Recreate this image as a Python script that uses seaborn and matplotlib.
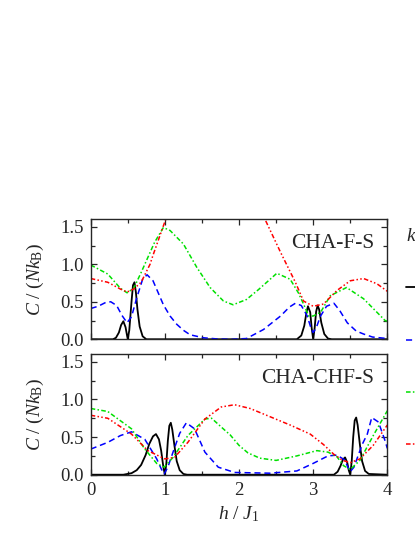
import numpy as np
import matplotlib

matplotlib.use('Agg')
import matplotlib.pyplot as plt
import pandas as pd
import seaborn as sns
from matplotlib.ticker import MultipleLocator

# legend entries (temperatures), colours and line styles
temps = ['0.01', '0.05', '0.1', '0.2']
colors = ['black', '#0000ff', '#00e000', '#ff0000']

# ---- CHA-F-S (upper panel) ----
h_f_0 = [0, 0.30, 0.34, 0.38, 0.41, 0.44, 0.47, 0.49, 0.50, 0.52, 0.55, 0.57, 0.59, 0.61, 0.63, 0.66, 0.70, 0.75,
         2.78, 2.84, 2.88, 2.91, 2.93, 2.96, 2.98, 3.00, 3.02, 3.04, 3.06, 3.08, 3.11, 3.15, 3.20, 3.25, 4.0]
c_f_0 = [0, 0, 0.02, 0.09, 0.19, 0.24, 0.16, 0.05, 0.0, 0.12, 0.50, 0.72, 0.76, 0.62, 0.40, 0.17, 0.04, 0,
         0, 0.05, 0.18, 0.36, 0.44, 0.36, 0.15, 0.0, 0.15, 0.37, 0.45, 0.40, 0.22, 0.07, 0.01, 0, 0]

h_f_1 = [0, 0.1, 0.2, 0.27, 0.35, 0.42, 0.49, 0.55, 0.62, 0.70, 0.76, 0.84, 0.91, 0.98, 1.07, 1.16, 1.25, 1.34,
         1.52, 1.7, 1.9, 2.1, 2.33, 2.56, 2.68, 2.76, 2.84, 2.92, 2.97, 3.00, 3.04, 3.1, 3.18, 3.28, 3.36, 3.46,
         3.58, 3.68, 3.8, 4.0]
c_f_1 = [0.41, 0.44, 0.49, 0.50, 0.45, 0.32, 0.22, 0.30, 0.55, 0.80, 0.86, 0.78, 0.62, 0.46, 0.31, 0.20, 0.12, 0.06,
         0.02, 0.005, 0.0, 0.01, 0.13, 0.31, 0.43, 0.48, 0.45, 0.31, 0.15, 0.09, 0.15, 0.31, 0.44, 0.48, 0.38, 0.22,
         0.11, 0.07, 0.03, 0.01]

h_f_2 = [0, 0.23, 0.40, 0.49, 0.58, 0.68, 0.86, 0.98, 1.07, 1.25, 1.43, 1.61, 1.79, 1.92, 2.1, 2.26, 2.51, 2.69,
         2.80, 2.87, 2.94, 3.0, 3.1, 3.23, 3.45, 3.68, 3.97, 4.0]
c_f_2 = [0.99, 0.87, 0.68, 0.62, 0.68, 0.89, 1.29, 1.49, 1.45, 1.27, 0.96, 0.69, 0.51, 0.46, 0.53, 0.66, 0.88, 0.80,
         0.62, 0.47, 0.31, 0.31, 0.36, 0.58, 0.69, 0.54, 0.25, 0.24]

h_f_3 = [0, 0.23, 0.40, 0.49, 0.58, 0.68, 0.80, 0.84, 0.99, 1.2, 1.5, 1.8, 2.1, 2.35, 2.56, 2.76, 2.87, 3.0, 3.14,
         3.32, 3.50, 3.68, 3.86, 4.0]
c_f_3 = [0.81, 0.76, 0.67, 0.63, 0.67, 0.76, 1.0, 1.12, 1.54, 2.1, 2.5, 2.5, 2.1, 1.6, 1.16, 0.76, 0.51, 0.44, 0.47,
         0.65, 0.78, 0.81, 0.74, 0.64]

# ---- CHA-CHF-S (lower panel) ----
h_c_0 = [0, 0.44, 0.55, 0.62, 0.68, 0.74, 0.79, 0.84, 0.88, 0.92, 0.95, 0.98, 1.00, 1.02, 1.04, 1.06, 1.08, 1.10,
         1.13, 1.16, 1.20, 1.25, 1.30, 3.28, 3.33, 3.37, 3.40, 3.43, 3.46, 3.48, 3.50, 3.52, 3.54, 3.56, 3.58, 3.60,
         3.63, 3.66, 3.70, 3.75, 4.0]
c_c_0 = [0, 0, 0.02, 0.06, 0.13, 0.26, 0.41, 0.51, 0.54, 0.47, 0.32, 0.10, 0.0, 0.15, 0.45, 0.65, 0.69, 0.60,
         0.38, 0.18, 0.06, 0.01, 0, 0, 0.04, 0.12, 0.20, 0.23, 0.16, 0.06, 0.0, 0.18, 0.50, 0.72, 0.76, 0.66,
         0.40, 0.18, 0.05, 0.01, 0]

h_c_1 = [0, 0.23, 0.40, 0.55, 0.73, 0.89, 0.95, 0.99, 1.04, 1.11, 1.20, 1.29, 1.40, 1.54, 1.72, 1.94, 2.42, 2.78,
         3.0, 3.2, 3.32, 3.42, 3.46, 3.50, 3.55, 3.59, 3.66, 3.73, 3.79, 3.88, 3.97, 4.0]
c_c_1 = [0.34, 0.43, 0.52, 0.57, 0.47, 0.21, 0.08, 0.01, 0.10, 0.30, 0.55, 0.69, 0.61, 0.30, 0.10, 0.03, 0.02, 0.05,
         0.15, 0.25, 0.26, 0.20, 0.12, 0.04, 0.10, 0.21, 0.40, 0.54, 0.76, 0.70, 0.45, 0.35]

h_c_2 = [0, 0.23, 0.55, 0.73, 0.89, 0.99, 1.11, 1.31, 1.54, 1.63, 1.81, 1.88, 2.0, 2.12, 2.28, 2.5, 2.78, 3.05,
         3.2, 3.32, 3.41, 3.5, 3.63, 3.81, 4.0]
c_c_2 = [0.88, 0.84, 0.61, 0.34, 0.15, 0.10, 0.23, 0.52, 0.74, 0.75, 0.59, 0.53, 0.39, 0.29, 0.22, 0.19, 0.25, 0.32,
         0.30, 0.24, 0.12, 0.07, 0.19, 0.52, 0.85]

h_c_3 = [0, 0.23, 0.55, 0.77, 1.0, 1.13, 1.31, 1.54, 1.76, 1.94, 2.15, 2.42, 2.69, 2.96, 3.14, 3.28, 3.4, 3.5, 3.63,
         3.81, 4.0]
c_c_3 = [0.79, 0.75, 0.54, 0.32, 0.21, 0.23, 0.43, 0.74, 0.90, 0.93, 0.88, 0.77, 0.66, 0.54, 0.40, 0.27, 0.19,
         0.16, 0.21, 0.39, 0.66]

panel_names = ['CHA-F-S', 'CHA-CHF-S']


def to_frame(hs, cs):
    rows = []
    for t, h, c in zip(temps, hs, cs):
        rows.append(pd.DataFrame({'h': h, 'C': c, 'T': t}))
    return pd.concat(rows, ignore_index=True)


def main():
    sns.set_style('ticks')
    plt.rcParams['font.family'] = ['Liberation Serif', 'DejaVu Serif']
    plt.rcParams['mathtext.fontset'] = 'custom'
    plt.rcParams['mathtext.rm'] = 'Liberation Serif'
    plt.rcParams['mathtext.it'] = 'Liberation Serif:italic'
    plt.rcParams['mathtext.bf'] = 'Liberation Serif:bold'

    palette = dict(zip(temps, colors))
    dashes = dict(zip(temps, ['', (4, 2.5), (3, 1.5, 1, 1.5), (3, 1.5, 1, 1.5, 1, 1.5)]))

    frames = [to_frame([h_f_0, h_f_1, h_f_2, h_f_3], [c_f_0, c_f_1, c_f_2, c_f_3]),
              to_frame([h_c_0, h_c_1, h_c_2, h_c_3], [c_c_0, c_c_1, c_c_2, c_c_3])]

    fig = plt.figure(figsize=(4.15, 5.37), dpi=100)
    ax_top = fig.add_axes([0.2186, 0.3682, 0.7147, 0.2235])
    ax_bot = fig.add_axes([0.2186, 0.1160, 0.7147, 0.2242])

    for ax, df, name in zip([ax_top, ax_bot], frames, panel_names):
        sns.lineplot(data=df, x='h', y='C', hue='T', style='T', palette=palette, dashes=dashes,
                     estimator=None, sort=False, linewidth=1.1, legend=False, ax=ax)
        ax.get_lines()[0].set_linewidth(1.3)
        ax.set_xlim(0, 4)
        ax.set_ylim(0, 1.6)
        ax.xaxis.set_major_locator(MultipleLocator(1))
        ax.xaxis.set_minor_locator(MultipleLocator(0.5))
        ax.yaxis.set_major_locator(MultipleLocator(0.5))
        ax.yaxis.set_minor_locator(MultipleLocator(0.25))
        ax.tick_params(which='both', direction='in', top=True, right=True, width=0.9, labelsize=13.5, pad=5)
        ax.tick_params(which='major', length=4.5)
        ax.tick_params(which='minor', length=3)
        for sp in ax.spines.values():
            sp.set_linewidth(1.0)
            sp.set_visible(True)
        ax.set_ylabel(r'$C\ /\ (Nk_{\mathrm{B}})$', fontsize=14, labelpad=10)
        ax.text(0.955, 0.80, name, transform=ax.transAxes, ha='right', va='center', fontsize=15.5)

    ax_top.set_xlabel('')
    ax_top.tick_params(labelbottom=False)
    ax_bot.set_xlabel(r'$h\ /\ J_{\mathit{1}}$', fontsize=14, labelpad=4)

    fig.legend(handles=ax_top.get_lines()[:4], labels=temps, title=r'$k_{\mathrm{B}}T\,/\,J_1$',
               loc='upper left', bbox_to_anchor=(406 / 415, 1 - 226 / 537), frameon=False, borderpad=0,
               borderaxespad=0, fontsize=13.5, title_fontsize=14, handlelength=3.0, labelspacing=1.87,
               alignment='left')

    plt.savefig('out.png', dpi=100)
    plt.close()


if __name__ == '__main__':
    main()
